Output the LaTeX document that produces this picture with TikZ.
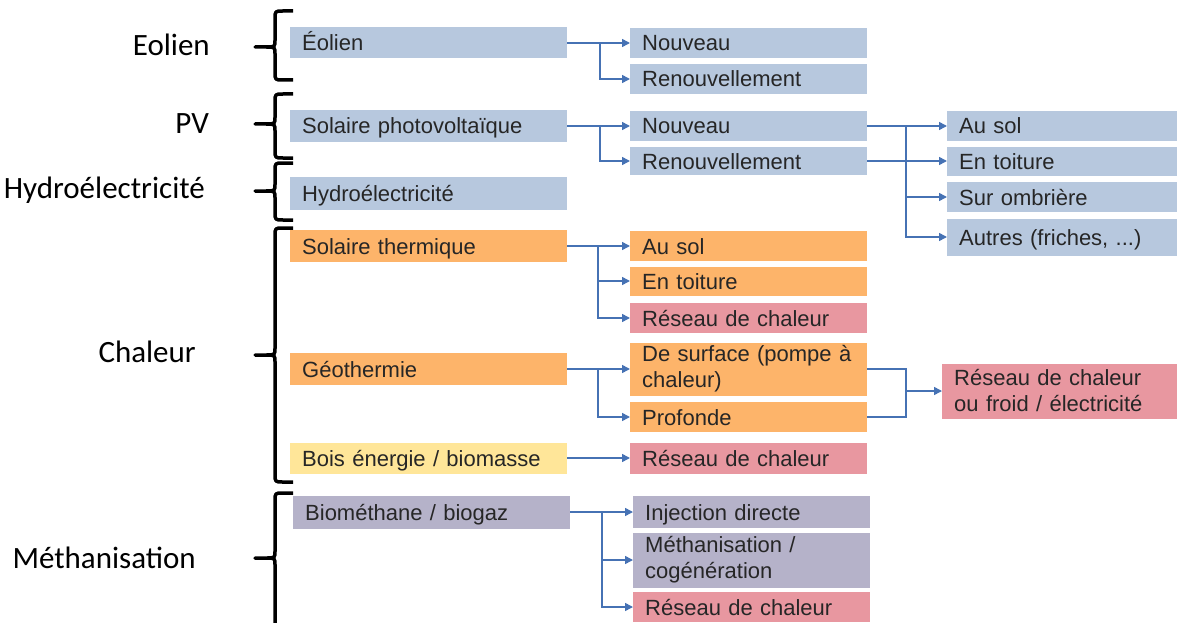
\documentclass[tikz,border=0pt]{standalone}
\usepackage{fontspec}
\setmainfont{Liberation Sans}
\newfontfamily\calib{Carlito}
\usepackage{xcolor}
\usepackage{tikz}
\usetikzlibrary{arrows.meta, positioning, calc}

\definecolor{elecblue}{RGB}{183,200,222}
\definecolor{heatorange}{RGB}{253,180,106}
\definecolor{netpink}{RGB}{232,151,160}
\definecolor{woodyellow}{RGB}{255,230,153}
\definecolor{gaspurple}{RGB}{181,178,201}
\definecolor{linkblue}{RGB}{70,114,180}

\tikzset{
  box/.style={rectangle, anchor=west, inner xsep=12pt, inner ysep=0pt,
              minimum height=30pt, align=left, text=black!85,
              font=\fontsize{22}{26}\selectfont},
  oneline/.style={text height=16pt, text depth=0pt},
  col1/.style={box, oneline, text width=253pt},
  col2/.style={box, oneline, text width=213pt},
  col3/.style={box, oneline, text width=206pt},
  col2two/.style={box, text width=213pt},
  elec/.style={fill=elecblue},
  heat/.style={fill=heatorange},
  net/.style={fill=netpink},
  wood/.style={fill=woodyellow},
  gas/.style={fill=gaspurple},
  link/.style={draw=linkblue, line width=1.5pt},
  arr/.style={link, -{Triangle[length=8pt,width=8pt]}},
  grp/.style={anchor=east, inner sep=0pt, font=\calib\fontsize{31}{35}\selectfont},
  brc/.style={line width=3.5pt, line join=round}
}

% brace: top, middle, bottom
\newcommand{\grpbrace}[3]{%
  \draw[brc] (293,#1) -- (283,#1) .. controls (275,#1) .. (275,#1+8)
    -- (275,#2-7) .. controls (275,#2) .. (266,#2) -- (255,#2)
    -- (266,#2) .. controls (275,#2) .. (275,#2+7)
    -- (275,#3-8) .. controls (275,#3) .. (283,#3) -- (293,#3);
}

\begin{document}
\begin{tikzpicture}[x=1pt,y=-1pt]
\clip (0,0) rectangle (1177,623);

%---------------- Groups ----------------%
\node[grp] (gEol)  at (210,45)  {Eolien};
\node[grp] (gPV)   at (209,124) {PV};
\node[grp] (gHyd)  at (205,190) {Hydroélectricité};
\node[grp] (gHeat) at (196,352) {Chaleur};
\node[grp] (gMeth) at (196,558) {Méthanisation};

\grpbrace{11}{47}{80}
\grpbrace{94}{124}{158}
\grpbrace{163}{191}{220}
\grpbrace{228}{355}{482}
\grpbrace{493}{558}{660}

%---------------- Sources ----------------%
\node[col1, elec, minimum height=31] (eol) at (290,43)  {Éolien};
\node[col1, elec, minimum height=32] (pv)  at (290,126) {Solaire photovoltaïque};
\node[col1, elec, minimum height=33] (hyd) at (290,193) {Hydroélectricité};
\node[col1, heat, minimum height=32] (st)  at (290,246) {Solaire thermique};
\node[col1, heat, minimum height=32] (geo) at (290,369) {Géothermie};
\node[col1, wood, minimum height=31] (bois) at (290,458) {Bois énergie / biomasse};
\node[col1, gas,  minimum height=33] (bio) at (293,512) {Biométhane / biogaz};

%---------------- Second level ----------------%
\node[col2, elec] (eolN) at (630,43) {Nouveau};
\node[col2, elec] (eolR) at (630,79) {Renouvellement};
\node[col2, elec, minimum height=29] (pvN) at (630,126) {Nouveau};
\node[col2, elec, minimum height=28] (pvR) at (630,161) {Renouvellement};
\node[col2, heat] (stAu)   at (630,246) {Au sol};
\node[col2, heat, minimum height=29] (stToit) at (630,281) {En toiture};
\node[col2, net]  (stRes)  at (630,318) {Réseau de chaleur};
\node[col2two, heat, minimum height=53] (geoS) at (630,369) {De surface (pompe à\\chaleur)};
\node[col2, heat] (geoP)   at (630,417) {Profonde};
\node[col2, net, minimum height=31] (boisR) at (630,458) {Réseau de chaleur};
\node[col2, gas, minimum height=32] (bioI) at (633,512) {Injection directe};
\node[col2two, gas, minimum height=55] (bioM) at (633,560) {Méthanisation /\\cogénération};
\node[col2, net]  (bioR)   at (633,607) {Réseau de chaleur};

%---------------- Third level ----------------%
\node[col3, elec] (pvAu)   at (947,126) {Au sol};
\node[col3, elec, minimum height=29] (pvToit) at (947,161) {En toiture};
\node[col3, elec] (pvOmb)  at (947,197) {Sur ombrière};
\node[col3, elec, minimum height=37] (pvAut) at (947,237) {Autres (friches, ...)};
\node[box, net, text width=211pt, minimum height=55] (rfe) at (942,391)
     {Réseau de chaleur\\ou froid / électricité};

%---------------- Links ----------------%
\coordinate (jEol)  at (600,43);
\coordinate (jPV)   at (600,126);
\coordinate (jPV2)  at (906,126);
\coordinate (jST)   at (598,246);
\coordinate (jGeo)  at (598,369);
\coordinate (jGeo2) at (906,391);
\coordinate (jBio)  at (602,512);

\draw[arr] (eol.east) -- (eolN.west);
\draw[arr] (jEol) |- (eolR.west);

\draw[arr] (pv.east) -- (pvN.west);
\draw[arr] (jPV) |- (pvR.west);
\draw[arr] (pvN.east) -- (pvAu.west);
\draw[arr] (pvR.east) -- (pvToit.west);
\draw[arr] (jPV2) |- (pvOmb.west);
\draw[arr] (jPV2) |- (pvAut.west);

\draw[arr] (st.east) -- (stAu.west);
\draw[arr] (jST) |- (stToit.west);
\draw[arr] (jST) |- (stRes.west);

\draw[arr] (geo.east) -- (geoS.west);
\draw[arr] (jGeo) |- (geoP.west);
\draw[link] (geoS.east) -| (jGeo2) |- (geoP.east);
\draw[arr] (jGeo2) -- (rfe.west);

\draw[arr] (bois.east) -- (boisR.west);

\draw[arr] (bio.east) -- (bioI.west);
\draw[arr] (jBio) |- (bioM.west);
\draw[arr] (jBio) |- (bioR.west);

\end{tikzpicture}
\end{document}
